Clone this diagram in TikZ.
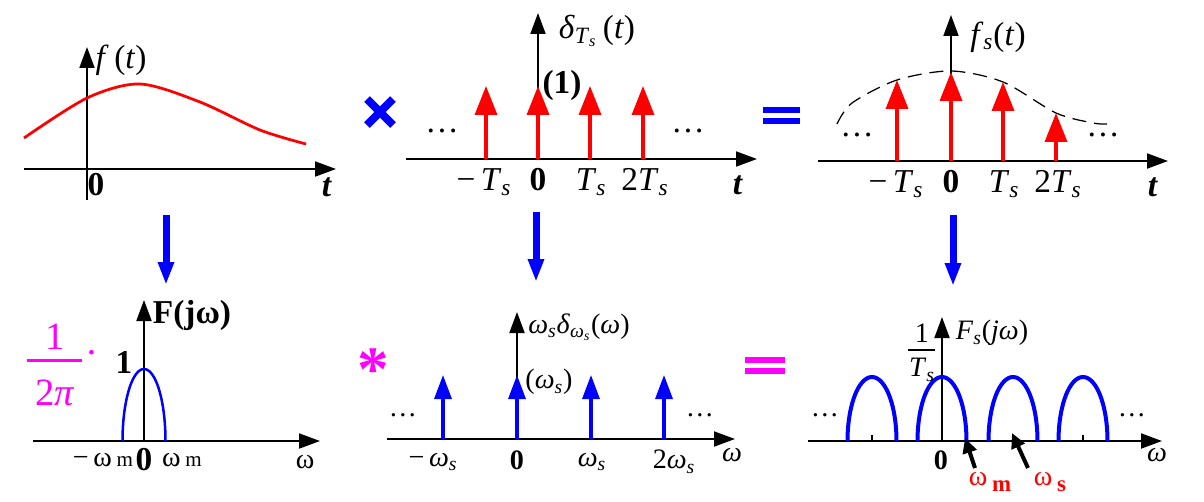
\documentclass[tikz,border=0pt]{standalone}
\usepackage{fontspec}
\setmainfont{Liberation Serif}
\usetikzlibrary{arrows.meta,positioning}

\definecolor{sigred}{RGB}{255,0,0}
\definecolor{sigblue}{RGB}{0,0,255}
\definecolor{sigpink}{RGB}{255,0,255}

\newcommand{\Tsub}{\textit{T}\textsubscript{\textit{s}}}
\newcommand{\wsub}{\textit{ω}\textsubscript{\textit{s}}}

\begin{document}
\begin{tikzpicture}[x=0.02cm,y=-0.02cm,
    axis/.style={line width=1.1pt,-{Triangle[length=0.42cm,width=0.3cm]}},
    redimp/.style={sigred,line width=0.07cm,-{Triangle[length=0.58cm,width=0.44cm]}},
    blueimp/.style={sigblue,line width=0.065cm,-{Triangle[length=0.48cm,width=0.34cm]}},
    downarr/.style={sigblue,line width=0.14cm,-{Triangle[length=0.46cm,width=0.3cm]}},
    ptarr/.style={line width=0.08cm,-{Triangle[length=0.3cm,width=0.28cm]}},
    lbl/.style={inner sep=0pt,font=\fontsize{19}{21}\selectfont},
    lbls/.style={inner sep=0pt,font=\fontsize{16}{18}\selectfont},
    arch/.style={sigblue,line width=0.08cm},
  ]
    \useasboundingbox (0,0) rectangle (1204,501);

    % f(t)
    \coordinate (fXa) at (24,169);
    \coordinate (fXb) at (336,169);
    \coordinate (fYa) at (87,200);
    \coordinate (fYb) at (87,47);
    \draw[axis] (fXa) -- (fXb);
    \draw[axis] (fYa) -- (fYb);
    \draw[sigred,line width=0.055cm] plot[smooth] coordinates {(24,138) (87,98) (140,84) (200,102) (260,130) (306,144)};
    \node[lbl] (fLab) at (121,60) {\textit{f}\,(\textit{t})};
    \node[lbl] (fZero) at (96,185) {\textbf{0}};
    \node[lbl] (fT) at (327,187) {\textbf{\textit{t}}};

    % times sign
    \draw[sigblue,line width=0.16cm] (367,99) -- (393,125) (367,125) -- (393,99);

    % delta train
    \coordinate (dXa) at (406,159);
    \coordinate (dXb) at (757,159);
    \coordinate (dYb) at (538,13);
    \draw[axis] (dXa) -- (dXb);
    \draw[axis] (538,159) -- (dYb);
    \foreach \xx/\nm in {486/m1,538/z,590/p1,643/p2} {
        \coordinate (dB\nm) at (\xx,159);
        \coordinate (dT\nm) at (\xx,86);
        \draw[redimp] (dB\nm) -- (dT\nm);
    }
    \node[lbl] (dLab) at (597,31) {\textit{δ}\textsubscript{\Tsub}\,(\textit{t})};
    \node[lbl] (dOne) at (562,85) {\textbf{(1)}};
    \node[lbl] (dDotL) at (442,131) {…};
    \node[lbl] (dDotR) at (688,131) {…};
    \node[lbl] (dTm1) at (484,182) {−\,\Tsub};
    \node[lbl] (dTz) at (538,180) {\textbf{0}};
    \node[lbl] (dTp1) at (591,182) {\Tsub};
    \node[lbl] (dTp2) at (645,182) {2\Tsub};
    \node[lbl] (dT) at (738,185) {\textbf{\textit{t}}};

    % equals sign
    \draw[sigblue,line width=0.12cm] (763,110) -- (800,110) (763,121) -- (800,121);

    % sampled signal
    \coordinate (sXa) at (818,161);
    \coordinate (sXb) at (1168,161);
    \coordinate (sYb) at (951,15);
    \draw[axis] (sXa) -- (sXb);
    \draw[axis] (951,161) -- (sYb);
    \draw[line width=0.025cm,dash pattern=on 0.28cm off 0.16cm] plot[smooth] coordinates {(837,124) (852,103) (897,80) (951,71) (1003,82) (1056,113) (1093,123) (1107,124)};
    \foreach \xx/\hh/\nm in {897/80/m1,951/72/z,1003/82/p1,1056/113/p2} {
        \coordinate (sB\nm) at (\xx,161);
        \coordinate (sT\nm) at (\xx,\hh);
        \draw[redimp] (sB\nm) -- (sT\nm);
    }
    \node[lbl] (sLab) at (998,37) {\textit{f}\textsubscript{\textit{s}}(\textit{t})};
    \node[lbl] (sDotL) at (857,135) {…};
    \node[lbl] (sDotR) at (1103,135) {…};
    \node[lbl] (sTm1) at (896,184) {−\,\Tsub};
    \node[lbl] (sTz) at (951,182) {\textbf{0}};
    \node[lbl] (sTp1) at (1004,184) {\Tsub};
    \node[lbl] (sTp2) at (1058,184) {2\Tsub};
    \node[lbl] (sT) at (1153,187) {\textbf{\textit{t}}};

    % transform arrows
    \coordinate (aAt) at (166,215);
    \coordinate (aAb) at (166,285);
    \coordinate (aBt) at (536,212);
    \coordinate (aBb) at (536,282);
    \coordinate (aCt) at (953,215);
    \coordinate (aCb) at (953,286);
    \draw[downarr] (aAt) -- (aAb);
    \draw[downarr] (aBt) -- (aBb);
    \draw[downarr] (aCt) -- (aCb);

    % F(jw)
    \coordinate (FXa) at (33,441);
    \coordinate (FXb) at (320,441);
    \coordinate (FYb) at (144,300);
    \draw[axis] (FXa) -- (FXb);
    \draw[axis] (144,441) -- (FYb);
    \draw[sigblue,line width=0.05cm] plot[domain=180:0,samples=40] ({144+21.5*cos(\x)},{441-72*sin(\x)});
    \node[lbl] (FLab) at (192,315) {\textbf{F(jω)}};
    \node[lbl] (FOne) at (124,362) {\textbf{1}};
    \node[lbls] (FWm) at (103,460) {−\,ω\,{\fontsize{12}{12}\selectfont m}};
    \node[lbl] (FZero) at (144,460) {\textbf{0}};
    \node[lbls] (FWp) at (182,460) {ω\,{\fontsize{12}{12}\selectfont m}};
    \node[lbls] (FW) at (305,462) {ω};
    \node[sigpink,inner sep=0pt,font=\fontsize{22}{24}\selectfont] (kNum) at (55,337) {1};
    \draw[sigpink,line width=0.06cm] (27,360) -- (82,360);
    \node[sigpink,inner sep=0pt,font=\fontsize{22}{24}\selectfont] (kDen) at (55,393) {2\textit{π}};
    \node[sigpink,inner sep=0pt,font=\fontsize{22}{24}\selectfont] (kDot) at (92,358) {·};

    % convolution sign
    \node[sigpink,inner sep=0pt,font=\fontsize{36}{36}\selectfont\bfseries] (conv) at (373,370) {*};

    % impulse train spectrum
    \coordinate (wXa) at (387,439);
    \coordinate (wXb) at (735,439);
    \coordinate (wYb) at (517,312);
    \draw[axis] (wXa) -- (wXb);
    \draw[axis] (517,439) -- (wYb);
    \foreach \xx/\nm in {443/m1,517/z,591/p1,664/p2} {
        \coordinate (wB\nm) at (\xx,439);
        \coordinate (wT\nm) at (\xx,375);
        \draw[blueimp] (wB\nm) -- (wT\nm);
    }
    \node[lbls] (wLab) at (579,327) {\wsub\textit{δ}\textsubscript{\wsub}(\textit{ω})};
    \node[lbls] (wWt) at (549,382) {(\wsub)};
    \node[lbls] (wDotL) at (403,415) {…};
    \node[lbls] (wDotR) at (700,415) {…};
    \node[lbls] (wTm1) at (433,462) {−\,\wsub};
    \node[lbls] (wTz) at (517,460) {\textbf{0}};
    \node[lbls] (wTp1) at (592,462) {\wsub};
    \node[lbls] (wTp2) at (674,462) {2\wsub};
    \node[lbls] (wW) at (732,455) {\textit{ω}};

    % equals sign
    \draw[sigpink,line width=0.12cm] (745,360) -- (785,360) (745,371) -- (785,371);

    % sampled spectrum
    \coordinate (pXa) at (808,441);
    \coordinate (pXb) at (1162,441);
    \coordinate (pYb) at (942,317);
    \draw[axis] (pXa) -- (pXb);
    \draw[axis] (942,441) -- (pYb);
    \foreach \cx in {872,1013,1083} {
        \draw[line width=0.8pt] (\cx,441) -- (\cx,435);
    }
    \foreach \cx in {872,942,1013,1083} {
        \draw[arch] plot[domain=180:0,samples=40] ({\cx+24.5*cos(\x)},{441-64*sin(\x)});
    }
    \node[lbls] (pNum) at (922,333) {1};
    \draw[line width=0.8pt] (908,350) -- (935,350);
    \node[lbls] (pDen) at (922,370) {\Tsub};
    \node[lbls] (pLab) at (992,333) {\textit{F}\textsubscript{\textit{s}}(\textit{jω})};
    \node[lbls] (pDotL) at (825,415) {…};
    \node[lbls] (pDotR) at (1132,415) {…};
    \node[lbls] (pZero) at (941,460) {\textbf{0}};
    \node[lbls] (pW) at (1157,455) {\textit{ω}};
    \node[lbls,sigred] (pWm) at (990,482) {ω\,\raisebox{-0.5ex}{\fontsize{13}{13}\selectfont\bfseries m}};
    \node[lbls,sigred] (pWs) at (1050,482) {ω\,\raisebox{-0.5ex}{\fontsize{13}{13}\selectfont\bfseries s}};
    \coordinate (pMa) at (975,468);
    \coordinate (pMb) at (965,438);
    \coordinate (pSa) at (1028,468);
    \coordinate (pSb) at (1012,433);
    \draw[ptarr] (pMa) -- (pMb);
    \draw[ptarr] (pSa) -- (pSb);
\end{tikzpicture}
\end{document}
